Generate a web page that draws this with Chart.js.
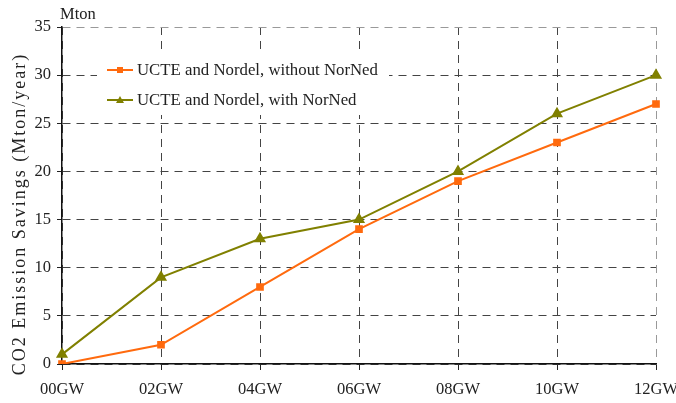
<!DOCTYPE html>
<html><head><meta charset="utf-8">
<script src="https://cdn.jsdelivr.net/npm/chart.js@4/dist/chart.umd.min.js"></script>
<style>html,body{margin:0;padding:0;background:#fff}#wrap{width:676px;height:403px}</style>
</head><body><div id="wrap"><canvas id="c" width="676" height="403"></canvas></div>
<script>
const categories = ['00GW','02GW','04GW','06GW','08GW','10GW','12GW'];
const withoutNorNed = [0, 2, 8, 14, 19, 23, 27];
const withNorNed = [1, 9, 13, 15, 20, 26, 30];
const seriesNames = ['UCTE and Nordel, without NorNed', 'UCTE and Nordel, with NorNed'];
const yTitle = 'CO2 Emission Savings (Mton/year)';
const unitLabel = 'Mton';

const FONT = "'Liberation Serif', 'DejaVu Serif', serif";

const extras = {
  id: 'extras',
  afterDraw(chart) {
    const ctx = chart.ctx;
    ctx.save();
    // legend box
    ctx.fillStyle = '#fff';
    ctx.fillRect(97, 53, 292, 62);
    const ds = chart.data.datasets;
    const rows = [70, 100];
    ds.forEach((d, i) => {
      const y = rows[i];
      ctx.strokeStyle = d.borderColor;
      ctx.lineWidth = 2;
      ctx.beginPath(); ctx.moveTo(107, y); ctx.lineTo(133, y); ctx.stroke();
      ctx.fillStyle = d.borderColor;
      if (d.pointStyle === 'triangle') {
        ctx.beginPath(); ctx.moveTo(120, y - 4); ctx.lineTo(124, y + 3); ctx.lineTo(116, y + 3); ctx.closePath(); ctx.fill();
      } else {
        ctx.fillRect(117, y - 3, 6, 6);
      }
      ctx.fillStyle = '#222';
      ctx.font = '16.8px ' + FONT;
      ctx.textBaseline = 'middle';
      ctx.textAlign = 'left';
      ctx.fillText(d.label, 137, y + 1);
    });
    // unit label
    ctx.fillStyle = '#222';
    ctx.font = '16.5px ' + FONT;
    ctx.textBaseline = 'middle';
    ctx.textAlign = 'left';
    ctx.fillText(unitLabel, 60, 15);
    // y title
    ctx.translate(20, 214);
    ctx.rotate(-Math.PI / 2);
    ctx.font = '18px ' + FONT;
    ctx.letterSpacing = '2px';
    ctx.textAlign = 'center';
    ctx.fillText(yTitle, 0, 0);
    ctx.restore();
  }
};

new Chart(document.getElementById('c'), {
  type: 'line',
  data: {
    labels: categories,
    datasets: [
      { label: seriesNames[0], data: withoutNorNed, borderColor: '#FF6A0E', backgroundColor: '#FF6A0E',
        borderWidth: 2, pointStyle: 'rect', pointRadius: 4, tension: 0 },
      { label: seriesNames[1], data: withNorNed, borderColor: '#808000', backgroundColor: '#808000',
        borderWidth: 2, pointStyle: 'triangle', pointRadius: 5, tension: 0 }
    ]
  },
  options: {
    responsive: false,
    animation: false,
    layout: { padding: { left: 0, top: 27, right: 20, bottom: 0 } },
    plugins: { legend: { display: false }, tooltip: { enabled: false } },
    scales: {
      x: {
        offset: false,
        afterFit(s) { s.height = 39; s.paddingLeft = 0; s.paddingRight = 0; },
        grid: {
          color: (c) => c.index === categories.length - 1 ? '#999' : '#444',
          lineWidth: 1, tickLength: 6, tickColor: '#222', tickBorderDash: [0, 0]
        },
        border: { display: true, color: '#111', width: 1.5, dash: [8, 6] },
        ticks: { color: '#222', font: { family: FONT, size: 16.5 }, padding: 10, maxRotation: 0 }
      },
      y: {
        min: 0, max: 35,
        afterFit(s) { s.width = 62; s.paddingTop = 0; s.paddingBottom = 0; },
        grid: {
          color: (c) => c.tick && c.tick.value === 35 ? '#999' : '#444',
          lineWidth: 1, tickLength: 5, tickColor: '#222', tickBorderDash: [0, 0]
        },
        border: { display: true, color: '#111', width: 1.5, dash: [8, 6] },
        ticks: { stepSize: 5, color: '#222', font: { family: FONT, size: 16.5 }, padding: 6 }
      }
    }
  },
  plugins: [extras]
});
</script>
</body></html>
